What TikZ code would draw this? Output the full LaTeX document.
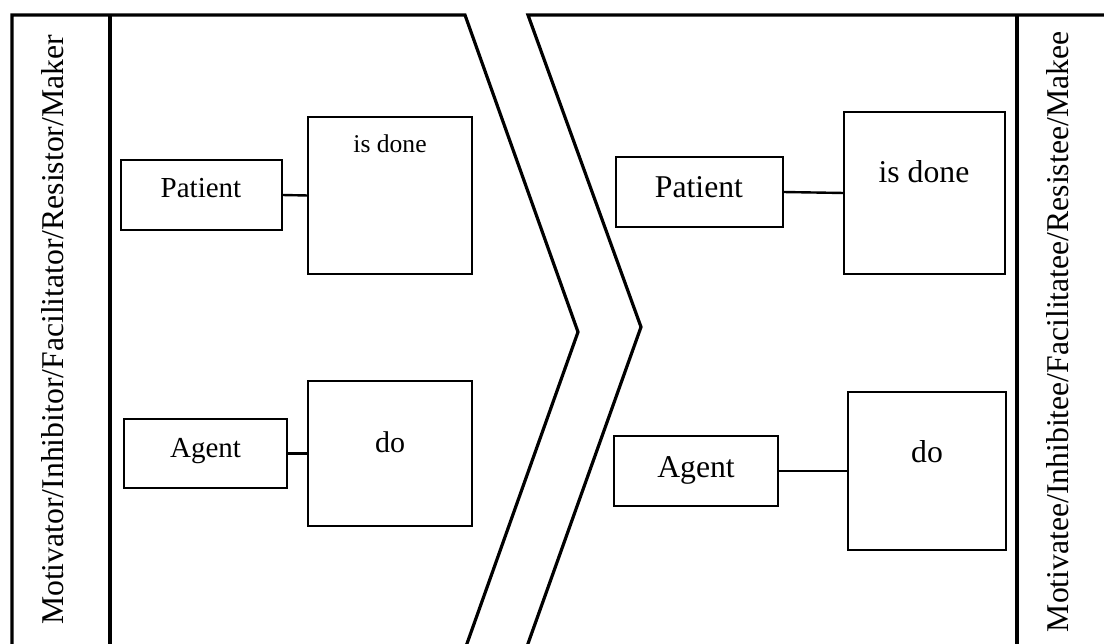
\documentclass[tikz,border=0pt]{standalone}
\usepackage{fontspec}
\setmainfont{Liberation Serif}
\begin{document}
\begin{tikzpicture}[x=1pt,y=-1pt,
  frame/.style={line width=3.2pt, line join=miter},
  box/.style={draw, rectangle, line width=2pt, inner sep=0pt, outer sep=0pt},
  thickbox/.style={box, line width=2.6pt},
  link/.style={line width=2.4pt},
  lbl/.style={anchor=base, inner sep=0pt},
  side/.style={anchor=base, inner sep=0pt, rotate=90, font=\fontsize{31.7}{36}\selectfont},
  small/.style={font=\fontsize{29}{34}\selectfont},
  big/.style={font=\fontsize{31.7}{36}\selectfont}]
\useasboundingbox (0,0) rectangle (1104,644);
\clip (0,0) rectangle (1104,644);

% outline coordinates
\coordinate (ltl) at (12,15);
\coordinate (lbl) at (12,652);
\coordinate (lin) at (110,15);
\coordinate (linb) at (110,652);
\coordinate (ltop) at (465,15);
\coordinate (ltip) at (578,332);
\coordinate (lbot) at (464,652);
\coordinate (rtop) at (528,15);
\coordinate (rtip) at (641,327);
\coordinate (rbot) at (525,652);
\coordinate (rin) at (1017,15);
\coordinate (rinb) at (1017,652);
\coordinate (rend) at (1112,15);

% left chevron with its label strip
\draw[frame] (lbl) -- (ltl) -- (ltop) -- (ltip) -- (lbot);
\draw[frame] (lin) -- (linb);
% right chevron with its label strip
\draw[frame] (rbot) -- (rtip) -- (rtop) -- (rend);
\draw[frame] (rin) -- (rinb);

% side labels
\node[side] (lside) at (63,330) {Motivator/Inhibitor/Facilitator/Resistor/Maker};
\node[side] (rside) at (1068,332) {Motivatee/Inhibitee/Facilitatee/Resistee/Makee};

% left panel boxes
\node[thickbox, minimum width=161pt, minimum height=70pt] (lpat) at (201.5,195) {};
\node[box, minimum width=164pt, minimum height=157pt] (ldone) at (390,195.5) {};
\node[thickbox, minimum width=163pt, minimum height=69pt] (lag) at (205.5,453.5) {};
\node[box, minimum width=164pt, minimum height=145pt] (ldo) at (390,453.5) {};
\draw[link] (lpat.east) -- (ldone.west);
\draw[link] (lag.east) -- (ldo.west);

\node[lbl, small] (lpatt) at (201,198) {Patient};
\node[lbl, font=\fontsize{25.6}{30}\selectfont] (ldonet) at (390,153) {is done};
\node[lbl, small] (lagt) at (205.5,457) {Agent};
\node[lbl, font=\fontsize{30}{35}\selectfont] (ldot) at (390,453) {do};

% right panel boxes
\node[box, minimum width=167pt, minimum height=70pt] (rpat) at (699.5,192) {};
\node[box, minimum width=161pt, minimum height=162pt] (rdone) at (924.5,193) {};
\node[box, minimum width=164pt, minimum height=70pt] (rag) at (696,471) {};
\node[box, minimum width=158pt, minimum height=158pt] (rdo) at (927,471) {};
\draw[link] (rpat.east) -- (rdone.west);
\draw[link] (rag.east) -- (rdo.west);

\node[lbl, big] (rpatt) at (699,198) {Patient};
\node[lbl, big] (rdonet) at (924,183) {is done};
\node[lbl, big] (ragt) at (696,477) {Agent};
\node[lbl, big] (rdot) at (927,463) {do};
\end{tikzpicture}
\end{document}
